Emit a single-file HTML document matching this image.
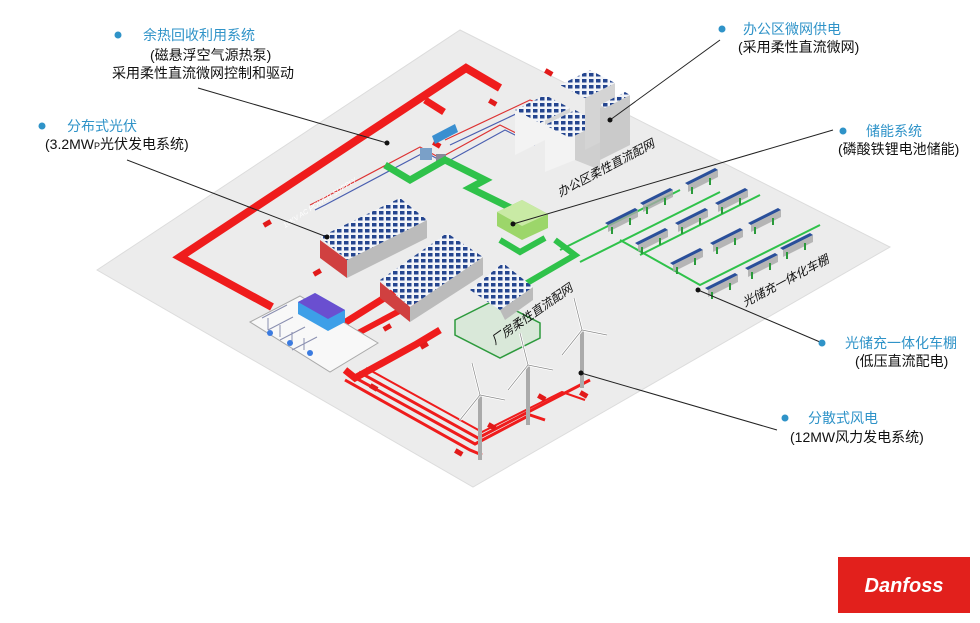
<!DOCTYPE html>
<html><head><meta charset="utf-8"><style>
html,body{margin:0;padding:0;background:#fff;}
svg{display:block}
text{font-family:"Liberation Sans","Noto Sans CJK SC",sans-serif;}
</style></head><body>
<svg width="980" height="623" viewBox="0 0 980 623" xmlns="http://www.w3.org/2000/svg">
<defs>
<pattern id="pv" width="7" height="6" patternUnits="userSpaceOnUse">
<rect width="7" height="6" fill="#f2f4f8"/><rect x="1" y="1" width="4.5" height="3.5" fill="#24458f"/>
</pattern>
<g id="cp">
<polygon points="0,8 30,-7 33,-5 3,10" fill="#2a4f9a"/>
<polygon points="3,10 33,-5 33,2 3,17" fill="#a8a8a8" opacity="0.8"/>
<rect x="6" y="12" width="2" height="7" fill="#2a9a3a"/>
<rect x="24" y="3" width="2" height="7" fill="#2a9a3a"/>
</g>
</defs>
<!-- platform -->
<polygon points="97,270 460,30 890,247 473,487" fill="#ececec" stroke="#dcdcdc" stroke-width="1"/>

<!-- red thick loop -->
<g fill="none" stroke="#ef1c1c" stroke-linejoin="miter">
<polyline points="272,307 180,257 466,68 500,88" stroke-width="8"/>
<polyline points="425,100 444,112" stroke-width="7"/>
<polyline points="330,332 397,290" stroke-width="7"/>
<polyline points="345,340 420,300" stroke-width="6"/>
<polyline points="345,370 355,378 415,345 440,330" stroke-width="7"/>
<polyline points="345,380 470,450 482,455" stroke-width="3"/>
<polyline points="352,376 475,444 530,415 545,420" stroke-width="3"/>
<polyline points="359,372 478,438 590,380" stroke-width="3"/>
<polyline points="366,368 482,432 562,392 585,400" stroke-width="2"/>
</g>
<g fill="#e21a1a">
<rect x="545" y="70" width="8" height="5" transform="rotate(30 549 72)"/>
<rect x="489" y="100" width="8" height="5" transform="rotate(30 493 102)"/>
<rect x="433" y="142" width="8" height="5" transform="rotate(30 437 144)"/>
<rect x="263" y="221" width="8" height="5" transform="rotate(-30 267 223)"/>
<rect x="313" y="270" width="8" height="5" transform="rotate(-30 317 272)"/>
<rect x="383" y="325" width="8" height="5" transform="rotate(-30 387 327)"/>
<rect x="420" y="343" width="8" height="5" transform="rotate(-30 424 345)"/>
<rect x="370" y="385" width="8" height="5" transform="rotate(30 374 387)"/>
<rect x="488" y="424" width="8" height="5" transform="rotate(30 492 426)"/>
<rect x="538" y="395" width="8" height="5" transform="rotate(30 542 397)"/>
<rect x="455" y="450" width="8" height="5" transform="rotate(30 459 452)"/>
<rect x="580" y="392" width="8" height="5" transform="rotate(30 584 394)"/>
</g>
<g fill="none" stroke-width="1.2">
<polyline points="310,205 320,200 420,147 440,158 500,125 530,140" stroke="#d33"/>
<polyline points="315,210 325,205 425,152 445,163 505,130 535,145" stroke="#4a5fb0"/>
<polyline points="445,140 530,100 555,110" stroke="#d33"/>
<polyline points="450,145 535,105 560,115" stroke="#4a5fb0"/>
</g>
<!-- heat pump units -->
<polygon points="432,136 455,124 458,132 435,144" fill="#3a8fd0"/>
<rect x="420" y="148" width="12" height="12" fill="#7aa0c8"/>
<rect x="436" y="154" width="10" height="10" fill="#889"/>

<!-- green DC bus -->
<g fill="none" stroke="#2fc24a" stroke-linejoin="miter">
<polyline points="385,165 410,180 445,160 485,180 470,188 525,215" stroke-width="7"/>
<polyline points="500,240 520,252 545,238" stroke-width="6"/>
<polyline points="555,240 575,255 515,290" stroke-width="6"/>
<polyline points="560,250 610,225 680,190" stroke-width="2"/>
<polyline points="580,262 640,232 720,192" stroke-width="2"/>
<polyline points="620,240 700,285 820,225" stroke-width="2"/>
<polyline points="640,255 760,195" stroke-width="2"/>
</g>
<polygon points="497,212 522,200 548,214 548,228 522,240 497,226" fill="#9cd66a"/>
<polygon points="497,212 522,200 548,214 522,226" fill="#c9eaa5"/>

<!-- PV building 1 -->
<polygon points="347,260 427,220 427,238 347,278" fill="#bbb"/>
<polygon points="320,240 347,260 347,278 320,258" fill="#d04040"/>
<polygon points="320,237 400,198 427,220 347,260" fill="url(#pv)"/>
<!-- PV building 2 -->
<polygon points="410,307 483,257 483,275 410,322" fill="#bbb"/>
<polygon points="380,282 410,307 410,322 380,298" fill="#d04040"/>
<polygon points="380,280 447,233 483,257 410,307" fill="url(#pv)"/>
<!-- factory -->
<polygon points="455,320 495,300 540,323 540,338 500,358 455,335" fill="#d9e8d9" stroke="#2d9a3d" stroke-width="1.5"/>
<polygon points="500,310 533,287 533,300 505,320" fill="#bbb"/>
<polygon points="470,290 503,263 533,287 500,310" fill="url(#pv)"/>

<!-- office buildings -->
<g>
<polygon points="515,110 545,95 545,140 515,155" fill="#f3f3f3"/>
<polygon points="545,95 570,108 570,153 545,140" fill="#d7d7d7"/>
<polygon points="515,110 545,95 570,108 540,123" fill="url(#pv)"/>
<polygon points="545,125 575,110 575,160 545,172" fill="#f3f3f3"/>
<polygon points="575,110 600,123 600,170 575,160" fill="#cfcfcf"/>
<polygon points="545,125 575,110 600,123 570,138" fill="url(#pv)"/>
<polygon points="585,98 615,83 615,135 585,150" fill="#d4d4d4"/>
<polygon points="560,85 590,70 615,83 585,98" fill="url(#pv)"/>
<polygon points="600,108 630,95 630,145 600,160" fill="#cacaca"/>
<polygon points="600,105 625,92 630,95 605,108" fill="url(#pv)"/>
</g>

<!-- carports -->
<use href="#cp" x="605" y="215"/><use href="#cp" x="640" y="195"/><use href="#cp" x="685" y="175"/>
<use href="#cp" x="635" y="235"/><use href="#cp" x="675" y="215"/><use href="#cp" x="715" y="195"/>
<use href="#cp" x="670" y="255"/><use href="#cp" x="710" y="235"/><use href="#cp" x="748" y="215"/>
<use href="#cp" x="705" y="280"/><use href="#cp" x="745" y="260"/><use href="#cp" x="780" y="240"/>

<!-- substation slab -->
<polygon points="250,322 300,296 378,343 330,372" fill="#f8f8f8" stroke="#aaa" stroke-width="1"/>
<polygon points="298,302 315,293 345,310 345,322 328,331 298,314" fill="#3d9fe8"/>
<polygon points="298,302 315,293 345,310 328,319" fill="#6a4fd0"/>
<g fill="none" stroke="#8a8fb0" stroke-width="1">
<path d="M262,318 l25,-13 M268,330 l25,-13 M280,340 l25,-13 M292,350 l25,-13 M268,318 v12 M280,325 v12 M292,332 v12 M304,338 v12"/>
</g>
<circle cx="270" cy="333" r="3" fill="#3b7be0"/><circle cx="290" cy="343" r="3" fill="#3b7be0"/><circle cx="310" cy="353" r="3" fill="#3b7be0"/>

<!-- wind turbines -->
<g fill="#aaa">
<rect x="478" y="395" width="4" height="65"/>
<rect x="526" y="365" width="4" height="60"/>
<rect x="580" y="330" width="4" height="58"/>
</g>
<g stroke="#fff" stroke-width="2.5" fill="none"><path d="M480,395 l-8,-32 M480,395 l25,5 M480,395 l-20,25"/><path d="M528,365 l-8,-32 M528,365 l25,5 M528,365 l-20,25"/><path d="M582,330 l-8,-32 M582,330 l25,5 M582,330 l-20,25"/></g>
<g stroke="#888" stroke-width="0.7" fill="none"><path d="M480,395 l-8,-32 M480,395 l25,5 M480,395 l-20,25"/><path d="M528,365 l-8,-32 M528,365 l25,5 M528,365 l-20,25"/><path d="M582,330 l-8,-32 M582,330 l25,5 M582,330 l-20,25"/></g>

<g font-size="12" font-style="italic" fill="#111">
<text transform="translate(560,197) rotate(-28)">办公区柔性直流配网</text>
<text transform="translate(495,345) rotate(-35)">厂房柔性直流配网</text>
<text transform="translate(745,307) rotate(-28)">光储充一体化车棚</text>
</g>
<text transform="translate(285,228) rotate(-33)" font-size="7" font-style="italic" fill="#fff">10KV AC POWER SUPPLY</text>

<g stroke="#222" stroke-width="1" fill="none">
<line x1="198" y1="88" x2="387" y2="143"/>
<line x1="127" y1="160" x2="327" y2="237"/>
<line x1="720" y1="40" x2="610" y2="120"/>
<line x1="833" y1="130" x2="513" y2="224"/>
<line x1="820" y1="342" x2="698" y2="290"/>
<line x1="777" y1="430" x2="581" y2="373"/>
</g>
<g fill="#111">
<circle cx="387" cy="143" r="2.5"/><circle cx="327" cy="237" r="2.5"/><circle cx="610" cy="120" r="2.5"/>
<circle cx="513" cy="224" r="2.5"/><circle cx="698" cy="290" r="2.5"/><circle cx="581" cy="373" r="2.5"/>
</g>

<g fill="#2f93c8"><circle cx="118" cy="35" r="3.5"/><circle cx="42" cy="126" r="3.5"/><circle cx="722" cy="29" r="3.5"/><circle cx="843" cy="131" r="3.5"/><circle cx="822" cy="343" r="3.5"/><circle cx="785" cy="418" r="3.5"/></g>
<g font-size="14" fill="#2f93c8">
<text x="143" y="40">余热回收利用系统</text>
<text x="67" y="131">分布式光伏</text>
<text x="743" y="34">办公区微网供电</text>
<text x="866" y="136">储能系统</text>
<text x="845" y="348">光储充一体化车棚</text>
<text x="808" y="423">分散式风电</text>
</g>
<g font-size="14" fill="#111">
<text x="150" y="60">(磁悬浮空气源热泵)</text>
<text x="112" y="78">采用柔性直流微网控制和驱动</text>
<text x="45" y="149">(3.2MW<tspan font-size="9">P</tspan>光伏发电系统)</text>
<text x="738" y="52">(采用柔性直流微网)</text>
<text x="838" y="154">(磷酸铁锂电池储能)</text>
<text x="855" y="366">(低压直流配电)</text>
<text x="790" y="442">(12MW风力发电系统)</text>
</g>

<rect x="838" y="557" width="132" height="56" fill="#e2201c"/>
<text x="904" y="592" font-family="Liberation Serif,serif" font-style="italic" font-weight="bold" font-size="20" fill="#fff" text-anchor="middle">Danfoss</text>
</svg>
</body></html>
